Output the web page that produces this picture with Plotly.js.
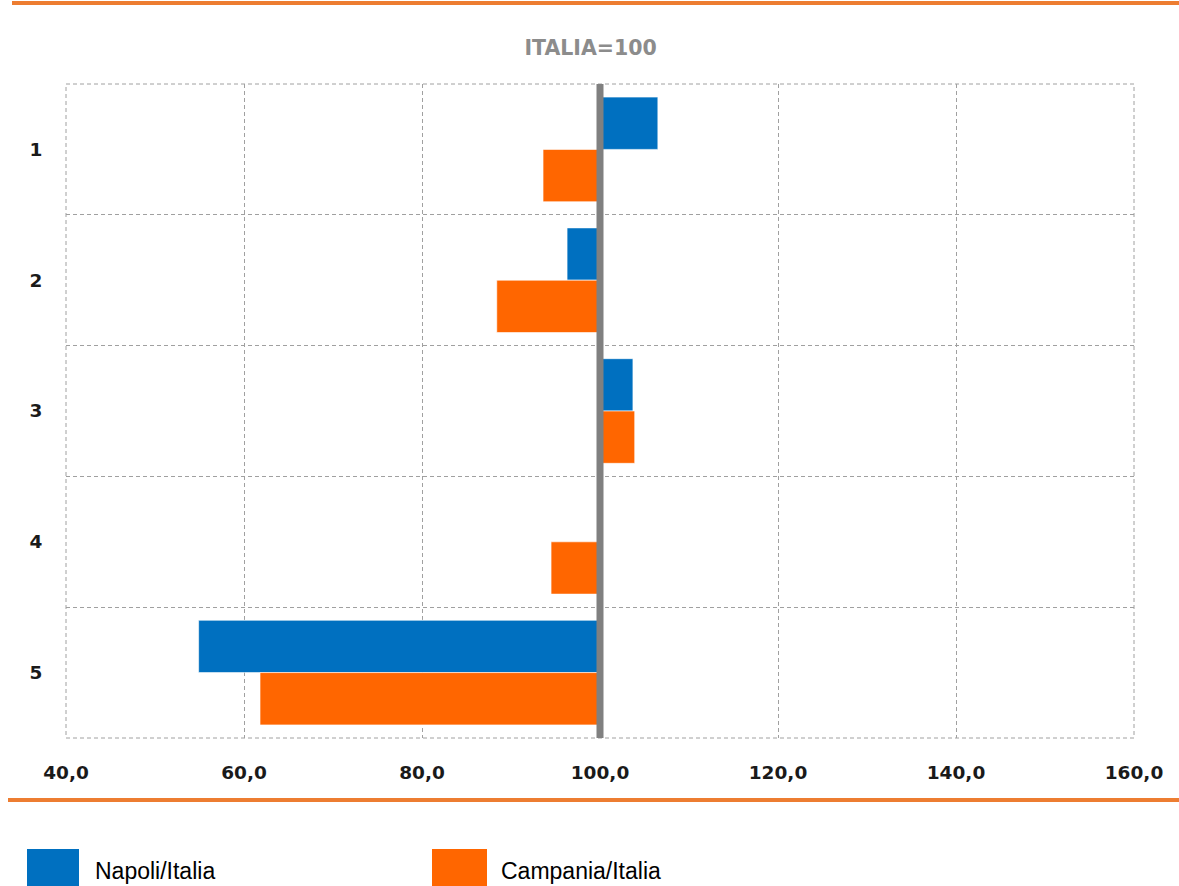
<!DOCTYPE html>
<html>
<head>
<meta charset="utf-8">
<script src="https://cdn.plot.ly/plotly-3.0.1.min.js"></script>
<style>html,body{margin:0;padding:0;background:#fff;}#chart{width:1179px;height:886px;}</style>
</head>
<body>
<div id="chart"></div>
<script>
// ---- data ----
const categories = ['1', '2', '3', '4', '5'];
const napoliName = 'Napoli/Italia';
const campaniaName = 'Campania/Italia';
const napoliValues = [106.5, 96.3, 103.7, null, 54.9];
const campaniaValues = [93.6, 88.4, 103.9, 94.5, 61.8];
const baseValue = 100;
const xTicks = [40, 60, 80, 100, 120, 140, 160];
const xTickLabels = ['40,0', '60,0', '80,0', '100,0', '120,0', '140,0', '160,0'];
const chartTitle = 'ITALIA=100';

// ---- layout helpers (pixel -> paper) ----
const W = 1179, H = 886, L = 66, R = 45, T = 84, B = 148;
const pw = W - L - R, ph = H - T - B;
const px = x => (x - L) / pw;
const py = y => (H - B - y) / ph;

const blue = '#0070C0', orange = '#FF6600';
const gridCol = '#a0a0a0', gridDash = '4px,3px';

const napoliDelta = napoliValues.map(v => v == null ? null : v - baseValue);
const campaniaDelta = campaniaValues.map(v => v == null ? null : v - baseValue);

const traces = [
  { type: 'bar', orientation: 'h', name: napoliName, y: categories, x: napoliDelta, base: baseValue,
    marker: { color: blue, line: { color: 'rgba(255,255,255,0.6)', width: 1 } }, showlegend: false, hoverinfo: 'skip' },
  { type: 'bar', orientation: 'h', name: campaniaName, y: categories, x: campaniaDelta, base: baseValue,
    marker: { color: orange, line: { color: 'rgba(255,255,255,0.6)', width: 1 } }, showlegend: false, hoverinfo: 'skip' },
  { type: 'scatter', x: [baseValue], y: [0], yaxis: 'y2', mode: 'markers', marker: { opacity: 0 }, showlegend: false, hoverinfo: 'skip' }
];

const gridBounds = [];
for (let i = 0; i <= categories.length; i++) gridBounds.push(i - 0.5);

const tickFont = { family: '"DejaVu Sans", Verdana, sans-serif', size: 18.5, color: '#1a1a1a', weight: 'bold' };
const legendFont = { family: '"Liberation Sans Narrow", "Arial Narrow", "Liberation Sans", Arial, sans-serif', size: 23, color: '#000' };

const layout = {
  width: W, height: H,
  margin: { l: L, r: R, t: T, b: B },
  paper_bgcolor: '#fff', plot_bgcolor: '#fff',
  barmode: 'group', bargap: 0.2, bargroupgap: 0,
  title: { text: chartTitle, x: px(601), xanchor: 'center', y: 1 - 48 / H, yanchor: 'middle',
    font: { family: '"DejaVu Sans", Verdana, sans-serif', size: 20.5, color: '#8c8c8c', weight: 'bold' } },
  xaxis: {
    range: [xTicks[0], xTicks[xTicks.length - 1]], tickmode: 'array', tickvals: xTicks, ticktext: xTickLabels,
    showgrid: true, gridcolor: gridCol, griddash: gridDash, gridwidth: 1, zeroline: false,
    showline: false, ticks: 'outside', ticklen: 18, tickcolor: 'rgba(0,0,0,0)',
    tickfont: tickFont
  },
  yaxis: {
    type: 'category', autorange: false, range: [categories.length - 0.5, -0.5],
    showgrid: false, zeroline: false, showline: false,
    ticks: 'outside', ticklen: 19, tickcolor: 'rgba(0,0,0,0)',
    tickfont: tickFont
  },
  yaxis2: {
    overlaying: 'y', range: [categories.length - 0.5, -0.5], autorange: false,
    tickmode: 'array', tickvals: gridBounds, showticklabels: false,
    showgrid: true, gridcolor: gridCol, griddash: gridDash, gridwidth: 1, zeroline: false, showline: false
  },
  shapes: [
    { type: 'rect', xref: 'paper', yref: 'paper', x0: 0, x1: 1, y0: 0, y1: 1,
      line: { color: gridCol, width: 1, dash: gridDash }, layer: 'below' },
    { type: 'line', xref: 'x', yref: 'paper', x0: baseValue, x1: baseValue, y0: 0, y1: 1,
      line: { color: '#808080', width: 7 }, layer: 'above' },
    { type: 'line', xref: 'paper', yref: 'paper', x0: px(12), x1: px(1179), y0: py(3), y1: py(3),
      line: { color: '#ED7D31', width: 4 } },
    { type: 'line', xref: 'paper', yref: 'paper', x0: px(8), x1: px(1179), y0: py(800), y1: py(800),
      line: { color: '#ED7D31', width: 4 } },
    { type: 'rect', xref: 'paper', yref: 'paper', x0: px(27), x1: px(79), y0: py(886), y1: py(849),
      line: { width: 0 }, fillcolor: blue },
    { type: 'rect', xref: 'paper', yref: 'paper', x0: px(432), x1: px(487), y0: py(886), y1: py(849),
      line: { width: 0 }, fillcolor: orange }
  ],
  annotations: [
    { xref: 'paper', yref: 'paper', x: px(93), y: py(871), xanchor: 'left', yanchor: 'middle',
      text: napoliName, showarrow: false, font: legendFont },
    { xref: 'paper', yref: 'paper', x: px(499), y: py(871), xanchor: 'left', yanchor: 'middle',
      text: campaniaName, showarrow: false, font: legendFont }
  ]
};

Plotly.newPlot('chart', traces, layout, { displayModeBar: false, staticPlot: true });
</script>
</body>
</html>
